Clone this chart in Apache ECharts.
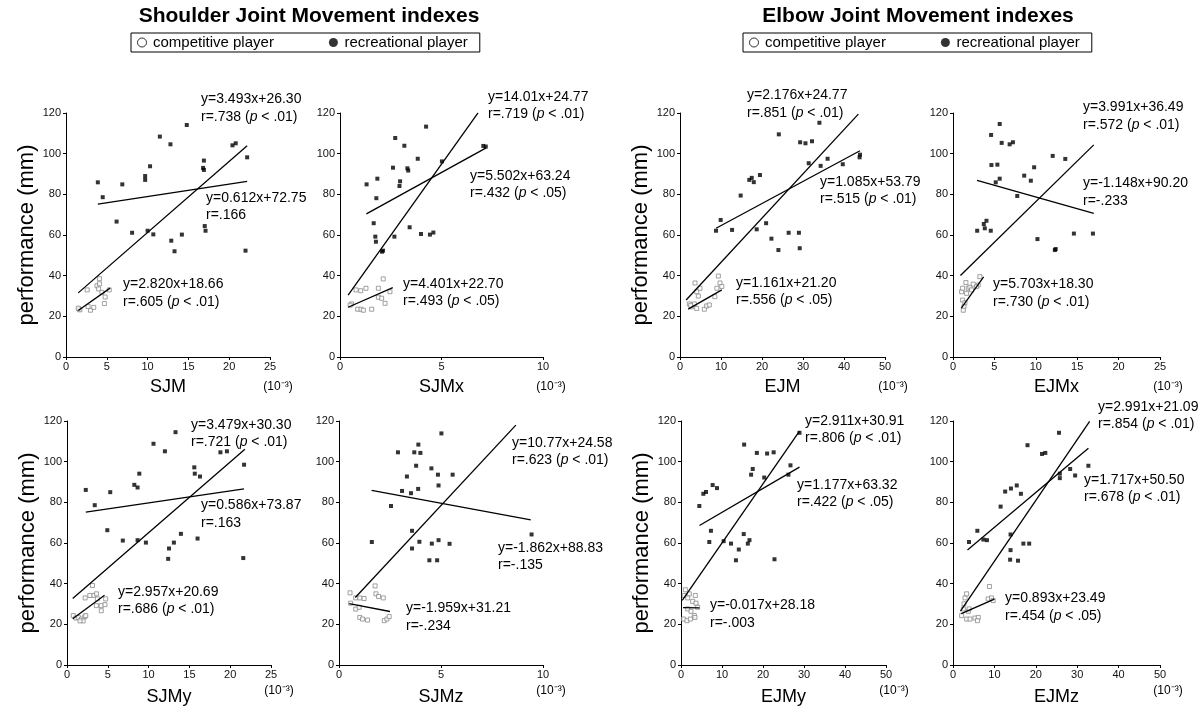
<!DOCTYPE html>
<html>
<head>
<meta charset="utf-8">
<script src="https://cdn.jsdelivr.net/npm/echarts@6/dist/echarts.min.js"></script>
<style>
  html, body { margin: 0; padding: 0; background: #fff; }
  #chart { width: 1202px; height: 707px; }
</style>
</head>
<body>
<div id="chart"></div>
<script>
const FONT = '"Liberation Sans", Arial, Helvetica, sans-serif';

// panel order: SJM, SJMx, EJM, EJMx (top row), SJMy, SJMz, EJMy, EJMz (bottom row)
const xNames = ['SJM', 'SJMx', 'EJM', 'EJMx', 'SJMy', 'SJMz', 'EJMy', 'EJMz'];
const xMaxes = [25, 10, 50, 25, 25, 10, 50, 50];
const xSteps = [5, 5, 10, 5, 5, 5, 10, 10];
const yMax = 120;
const yStep = 20;

// recreational players (filled markers)
const sjmRec = [[3.9,85.9],[4.5,78.6],[6.9,84.9],[6.2,66.6],[8.1,61.1],[9.7,89.0],[9.7,87.1],[10.3,93.8],[10.0,62.1],[10.7,60.3],[11.5,108.4],[12.8,104.6],[12.9,57.2],[13.3,52.0],[14.2,60.2],[14.8,114.1],[16.9,96.6],[16.8,93.0],[16.9,92.0],[17.0,64.4],[17.1,62.1],[20.4,104.1],[20.8,105.1],[22.2,98.2],[22.0,52.3]];
const sjmxRec = [[1.31,84.9],[1.84,87.7],[1.79,78.1],[1.66,65.8],[1.74,59.2],[1.77,56.7],[2.07,51.8],[2.12,52.3],[2.72,107.7],[3.17,103.9],[2.61,93.1],[2.96,86.4],[2.93,84.1],[3.32,92.8],[3.36,91.7],[3.83,97.5],[3.43,63.8],[2.68,59.2],[3.99,60.5],[4.24,113.3],[4.43,60.2],[4.6,61.2],[5.02,96.2],[7.06,103.8],[7.18,103.5]];
const ejmRec = [[8.78,62.1],[9.92,67.4],[12.7,62.5],[14.8,79.4],[16.9,87.1],[17.5,88.1],[18.0,86.0],[19.5,89.5],[18.7,62.8],[21.0,65.8],[22.3,58.2],[24.1,109.5],[24.0,52.6],[26.5,61.1],[29.0,61.1],[29.2,53.5],[29.3,105.6],[30.6,105.1],[32.2,106.1],[31.4,95.3],[34.0,115.2],[34.3,94.0],[36.0,97.5],[39.7,94.8],[43.9,99.5],[43.8,98.2]];
const ejmxRec = [[2.92,62.1],[3.72,65.4],[4.04,67.0],[3.84,63.3],[4.56,62.1],[4.6,109.2],[5.64,114.6],[5.88,105.3],[6.84,104.6],[7.24,105.6],[4.64,94.4],[5.36,94.6],[5.64,87.7],[5.16,85.9],[7.76,79.2],[8.6,89.2],[9.4,86.7],[9.8,93.3],[10.2,58.0],[12.04,98.9],[12.3,52.6],[12.4,53.1],[13.56,97.4],[14.6,60.7],[16.9,60.7]];
const sjmyRec = [[2.3,86.1],[3.4,78.6],[5.3,85.0],[4.94,66.3],[6.84,61.2],[8.25,88.6],[8.65,87.3],[8.86,94.1],[8.65,61.4],[9.67,60.2],[10.6,108.8],[12.0,105.1],[12.5,57.3],[12.4,52.2],[13.1,60.2],[13.3,114.5],[13.96,64.5],[15.6,97.2],[15.66,94.1],[16.3,92.7],[16.0,62.2],[18.8,104.6],[19.6,105.1],[21.7,98.5],[21.6,52.6]];
const sjmzRec = [[1.61,60.5],[2.55,78.2],[2.89,104.6],[3.09,85.6],[3.33,92.7],[3.53,84.5],[3.58,66.0],[3.58,57.3],[3.69,104.6],[3.78,98.0],[3.88,86.6],[3.89,108.4],[3.99,104.3],[3.94,60.6],[4.43,51.5],[4.55,59.7],[4.53,96.7],[4.81,51.5],[4.85,93.6],[4.88,88.3],[4.88,61.4],[5.02,113.9],[5.42,59.6],[5.57,93.6],[9.44,64.2]];
const ejmyRec = [[4.47,78.2],[5.45,84.2],[6.1,85.1],[7.72,88.5],[8.78,87.0],[7.3,66.0],[6.9,60.5],[10.4,60.9],[12.2,59.7],[13.4,51.5],[14.1,56.8],[15.3,64.4],[16.3,59.7],[16.7,61.4],[15.4,108.4],[17.5,96.4],[17.1,93.6],[18.5,104.3],[20.3,92.2],[21.0,104.0],[22.6,104.6],[22.8,52.0],[26.2,93.6],[26.7,98.2],[28.9,114.2]];
const ejmzRec = [[3.86,60.5],[5.88,66.0],[7.33,61.7],[8.2,61.4],[11.5,77.9],[12.6,85.3],[14.0,86.8],[15.4,88.3],[16.4,84.2],[13.9,64.2],[13.9,56.5],[13.8,51.8],[15.7,51.3],[17.0,59.7],[18.4,59.7],[18.0,108.1],[21.5,103.8],[22.3,104.3],[25.6,114.2],[25.8,94.1],[25.8,91.9],[28.3,96.4],[29.5,93.2],[32.7,98.0]];

// competitive players (open markers)
const sjmComp = [[1.6,23.5],[1.7,23.2],[1.5,24.0],[3.0,23.0],[3.4,24.4],[2.7,24.8],[2.6,33.0],[3.8,35.0],[4.1,38.5],[4.0,33.5],[4.4,31.8],[4.8,29.5],[4.7,26.3],[5.3,33.0],[4.1,36.0]];
const sjmxComp = [[0.57,26.1],[0.79,33.0],[1.02,32.6],[1.28,33.8],[1.89,33.8],[2.13,38.4],[0.87,23.5],[1.03,23.5],[1.15,23.0],[1.56,23.5],[1.89,29.4],[2.05,28.9],[2.22,26.4],[2.46,32.1],[0.5,25.5]];
const ejmComp = [[2.28,26.1],[2.85,24.7],[4.07,23.9],[3.5,26.1],[4.47,30.0],[4.07,32.1],[3.66,36.4],[4.88,33.8],[5.94,23.5],[6.5,25.1],[7.15,25.6],[8.5,29.7],[9.35,39.8],[9.76,36.4],[10.2,34.7],[9.0,33.8],[2.6,25.4]];
const ejmxComp = [[1.04,32.1],[1.16,33.8],[1.56,36.6],[1.84,33.8],[1.16,28.0],[1.44,26.7],[1.32,24.7],[2.04,34.3],[2.44,35.8],[3.04,35.4],[3.24,39.5],[1.64,31.3],[2.24,33.0],[2.84,34.6],[1.24,23.0]];
const sjmyComp = [[0.77,24.3],[1.09,23.1],[1.39,23.4],[1.78,22.6],[2.18,23.7],[1.98,21.7],[2.3,24.3],[1.6,21.7],[2.22,33.0],[3.28,34.2],[3.6,35.0],[3.12,39.1],[3.72,32.5],[3.6,29.2],[4.2,26.7],[4.2,29.2],[4.65,29.7],[4.74,32.5],[2.8,34.2]];
const sjmzComp = [[0.54,35.5],[0.57,30.4],[0.82,33.0],[1.02,33.0],[1.23,32.7],[0.82,27.5],[1.02,23.4],[1.15,22.6],[1.4,22.1],[1.77,38.9],[1.81,35.0],[1.94,33.7],[2.17,33.0],[2.22,21.8],[2.35,22.6],[2.46,23.8],[0.99,28.4]];
const ejmyComp = [[0.81,34.2],[1.63,33.0],[2.85,31.3],[3.5,34.2],[3.66,30.4],[1.63,27.6],[2.44,26.4],[3.25,24.3],[0.65,22.6],[1.46,21.8],[2.28,22.6],[3.41,23.4],[4.07,28.4],[1.06,37.0],[2.03,35.0]];
const ejmzComp = [[2.09,24.3],[2.5,27.6],[2.66,30.1],[2.9,33.0],[3.3,35.0],[3.7,26.4],[3.3,22.6],[4.1,22.6],[5.3,23.1],[6.1,23.4],[5.9,21.8],[8.8,38.6],[8.5,32.5],[9.3,33.0],[9.7,31.7],[3.9,27.6]];

const recData = [sjmRec, sjmxRec, ejmRec, ejmxRec, sjmyRec, sjmzRec, ejmyRec, ejmzRec];
const compData = [sjmComp, sjmxComp, ejmComp, ejmxComp, sjmyComp, sjmzComp, ejmyComp, ejmzComp];

// regression fits per panel: [all players, recreational, competitive]
const fitSlopes = [[3.493,0.612,2.820],[14.01,5.502,4.401],[2.176,1.085,1.161],[3.991,-1.148,5.703],[3.479,0.586,2.957],[10.77,-1.862,-1.959],[2.911,1.177,-0.017],[2.991,1.717,0.893]];
const fitIntercepts = [[26.30,72.75,18.66],[24.77,63.24,22.70],[24.77,53.79,21.20],[36.49,90.20,18.30],[30.30,73.87,20.69],[24.58,88.83,31.21],[30.91,63.32,28.18],[21.09,50.50,23.49]];
const fitRanges = [
  [[1.5,22.2],[3.9,22.2],[1.5,5.4]],
  [[0.4,6.8],[1.3,7.2],[0.4,2.6]],
  [[1.5,43.5],[8.8,43.9],[2.0,10.2]],
  [[0.9,17.0],[2.9,17.0],[1.0,3.7]],
  [[0.7,21.8],[2.3,21.7],[0.7,4.6]],
  [[0.8,8.67],[1.6,9.4],[0.5,2.5]],
  [[0.3,28.9],[4.5,28.9],[0.5,4.5]],
  [[1.8,33.0],[3.5,32.7],[2.0,10.0]]
];
const fitR = [
  ['r=.738 (p < .01)','r=.166','r=.605 (p < .01)'],
  ['r=.719 (p < .01)','r=.432 (p < .05)','r=.493 (p < .05)'],
  ['r=.851 (p < .01)','r=.515 (p < .01)','r=.556 (p < .05)'],
  ['r=.572 (p < .01)','r=-.233','r=.730 (p < .01)'],
  ['r=.721 (p < .01)','r=.163','r=.686 (p < .01)'],
  ['r=.623 (p < .01)','r=-.135','r=-.234'],
  ['r=.806 (p < .01)','r=.422 (p < .05)','r=-.003'],
  ['r=.854 (p < .01)','r=.678 (p < .01)','r=.454 (p < .05)']
];

// layout
const grids = [
  { left: 66, top: 113, width: 204, height: 244 },
  { left: 340, top: 113, width: 203, height: 244 },
  { left: 680, top: 113, width: 205, height: 244 },
  { left: 953, top: 113, width: 207, height: 244 },
  { left: 67, top: 421, width: 204, height: 244 },
  { left: 339, top: 421, width: 204, height: 244 },
  { left: 681, top: 421, width: 205, height: 244 },
  { left: 953, top: 421, width: 207, height: 244 }
];
const notePos = [
  [[201,99,117],[206,198,215],[123,284,302]],
  [[488,97,114],[470,176,193],[403,284,301]],
  [[747,95,113],[820,182,199],[736,283,300]],
  [[1083,107,125],[1083,183,201],[993,284,302]],
  [[191,425,442],[201,505,523],[118,592,609]],
  [[512,443,460],[498,548,565],[406,608,626]],
  [[805,421,438],[797,485,502],[710,605,623]],
  [[1098,407,424],[1084,480,497],[1005,598,616]]
];

// slopes like 14.01 / 10.77 are written with 2 decimals, the others with 3
const eqText = (a, b) => {
  const s = Math.abs(a) >= 10 ? a.toFixed(2) : a.toFixed(3);
  return 'y=' + s + 'x+' + b.toFixed(2);
};

const chartDom = document.getElementById('chart');
const myChart = echarts.init(chartDom, null, { renderer: 'canvas' });

const xAxes = grids.map((g, i) => ({
  type: 'value',
  gridIndex: i,
  min: 0,
  max: xMaxes[i],
  interval: xSteps[i],
  name: xNames[i],
  nameLocation: 'middle',
  nameGap: i < 4 ? 21 : 23,
  nameTextStyle: { fontFamily: FONT, fontSize: 18, color: '#000' },
  axisLine: { show: true, lineStyle: { color: '#000', width: 1 } },
  axisTick: { show: true, length: 3, lineStyle: { color: '#000' } },
  axisLabel: { fontFamily: FONT, fontSize: 11, color: '#111', margin: 4 },
  splitLine: { show: false }
}));

const yAxes = grids.map((g, i) => ({
  type: 'value',
  gridIndex: i,
  min: 0,
  max: yMax,
  interval: yStep,
  name: i % 2 === 0 ? 'performance (mm)' : '',
  nameLocation: 'middle',
  nameGap: 28,
  nameTextStyle: { fontFamily: FONT, fontSize: 22, color: '#000' },
  axisLine: { show: true, lineStyle: { color: '#000', width: 1 } },
  axisTick: { show: true, length: 3, lineStyle: { color: '#000' } },
  axisLabel: { fontFamily: FONT, fontSize: 11, color: '#111', margin: 5 },
  splitLine: { show: false }
}));

const series = [];
grids.forEach((g, i) => {
  series.push({
    name: 'competitive player',
    type: 'scatter',
    xAxisIndex: i,
    yAxisIndex: i,
    symbol: 'rect',
    symbolSize: 4,
    itemStyle: { color: '#fff', borderColor: '#8a8a8a', borderWidth: 1 },
    data: compData[i],
    z: 3
  });
  series.push({
    name: 'recreational player',
    type: 'scatter',
    xAxisIndex: i,
    yAxisIndex: i,
    symbol: 'rect',
    symbolSize: 4,
    itemStyle: { color: '#000' },
    data: recData[i],
    z: 3
  });
  fitSlopes[i].forEach((a, k) => {
    const b = fitIntercepts[i][k];
    const [x0, x1] = fitRanges[i][k];
    series.push({
      name: 'fit',
      type: 'line',
      xAxisIndex: i,
      yAxisIndex: i,
      showSymbol: false,
      silent: true,
      lineStyle: { color: '#000', width: 1.3 },
      data: [[x0, a * x0 + b], [x1, a * x1 + b]],
      z: 4
    });
  });
});

const graphics = [];
const textEl = (x, y, text, size, extra) => ({
  type: 'text',
  x: x,
  y: y,
  silent: true,
  style: Object.assign({
    text: text,
    fontFamily: FONT,
    fontSize: size,
    fill: '#000',
    verticalAlign: 'middle',
    rich: { i: { fontStyle: 'italic', fontFamily: FONT, fontSize: size, fill: '#000' } }
  }, extra || {})
});

// titles
graphics.push(textEl(309, 16, 'Shoulder Joint Movement indexes', 21, { fontWeight: 'bold', align: 'center' }));
graphics.push(textEl(918, 16, 'Elbow Joint Movement indexes', 21, { fontWeight: 'bold', align: 'center' }));

// (10^-3) unit notes and regression annotations
grids.forEach((g, i) => {
  const axisY = g.top + g.height;
  graphics.push(textEl(g.left + g.width + 8, axisY + (i < 4 ? 30 : 26), '(10\u207B\u00B3)', 12, { align: 'center' }));
  notePos[i].forEach((p, k) => {
    graphics.push(textEl(p[0], p[1], eqText(fitSlopes[i][k], fitIntercepts[i][k]), 14));
    graphics.push(textEl(p[0], p[2], fitR[i][k].replace('(p', '({i|p}'), 14));
  });
});

const legendBase = {
  top: 33,
  orient: 'horizontal',
  selectedMode: false,
  padding: [2, 12, 2, 6],
  itemGap: 55,
  itemWidth: 12,
  itemHeight: 9,
  borderColor: '#000',
  borderWidth: 1,
  borderRadius: 0,
  textStyle: { fontFamily: FONT, fontSize: 15, color: '#000' },
  data: [
    { name: 'competitive player', icon: 'circle', itemStyle: { color: '#fff', borderColor: '#000', borderWidth: 1 } },
    { name: 'recreational player', icon: 'circle', itemStyle: { color: '#000', borderWidth: 0 } }
  ]
};

const option = {
  backgroundColor: '#fff',
  animation: false,
  textStyle: { fontFamily: FONT },
  legend: [
    Object.assign({}, legendBase, { left: 131 }),
    Object.assign({}, legendBase, { left: 743 })
  ],
  grid: grids,
  xAxis: xAxes,
  yAxis: yAxes,
  series: series,
  graphic: graphics
};

myChart.setOption(option);
</script>
</body>
</html>
